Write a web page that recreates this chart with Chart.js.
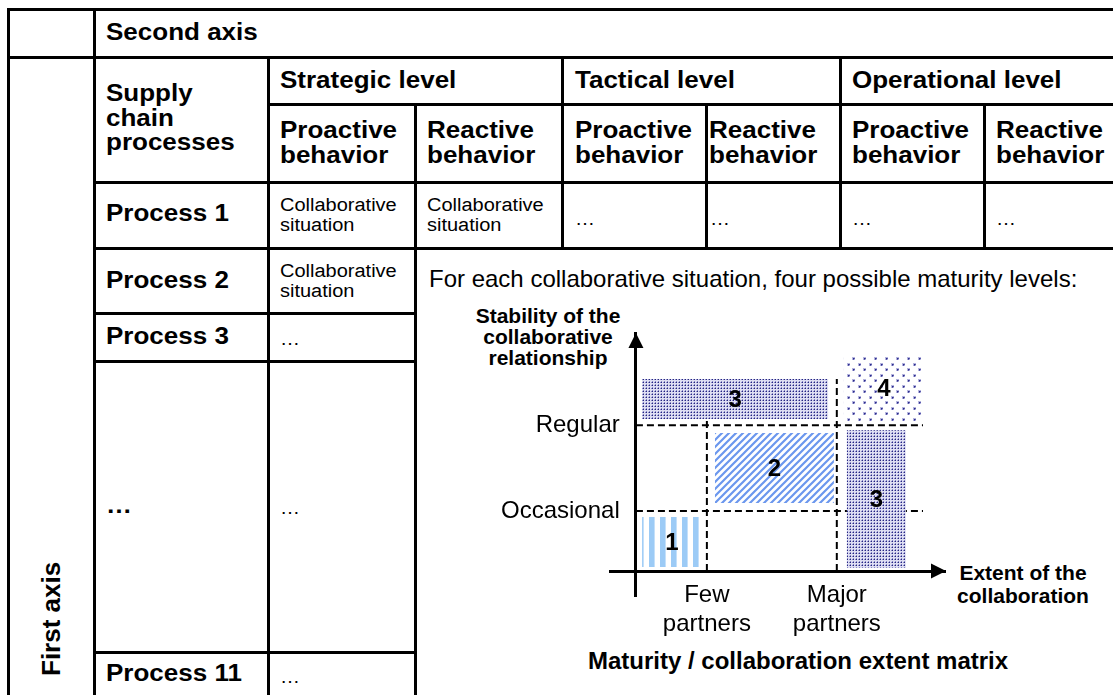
<!DOCTYPE html>
<html><head><meta charset="utf-8">
<script src="https://cdn.jsdelivr.net/npm/chart.js@4"></script>
<style>
html,body{margin:0;padding:0;background:#fff;}
body{width:1113px;height:695px;overflow:hidden;position:relative;font-family:"Liberation Sans",Arial,sans-serif;color:#000;}
.ln{position:absolute;background:#000;z-index:1;}
.t{position:absolute;white-space:nowrap;transform:translateY(-50%) scaleY(0.9);z-index:1;}
.b{font-weight:bold;font-size:26px;line-height:27.5px;}
.s{font-size:20px;line-height:21.5px;}
.m{font-size:24px;line-height:28px;transform:translateY(-50%);}
.ct{position:absolute;font-weight:bold;text-align:center;white-space:nowrap;z-index:1;}
#fa{position:absolute;left:51px;top:676px;transform-origin:0 0;transform:rotate(-90deg) translateY(-50%);font-weight:bold;font-size:26px;line-height:30px;white-space:nowrap;}
canvas{position:absolute;left:0;top:0;z-index:2;pointer-events:none;}
</style></head><body>
<div id="tbl"></div>
<div id="fa">First axis</div>
<div class="ct" style="left:448px;width:200px;top:305px;font-size:21px;line-height:21px;">Stability of the<br>collaborative<br>relationship</div>
<div class="ct" style="left:943px;width:160px;top:561px;font-size:21px;line-height:23px;">Extent of the<br>collaboration</div>
<div class="ct" style="left:588px;width:400px;top:647px;font-size:24px;line-height:28px;">Maturity / collaboration extent matrix</div>
<canvas id="c" width="1113" height="695"></canvas>
<script>
// ---- chart data ----
const xRange = [-0.8, 9.57];
const yRange = [-0.89, 8.16];
const xTickValues = [2.19, 6.2];
const xTickLabels = [['Few', 'partners'], ['Major', 'partners']];
const yTickValues = [2.06, 5.0];
const yTickLabels = ['Occasional', 'Regular'];
const boxLabels = ['1', '2', '3', '3', '4'];
const boxX0 = [0.19, 2.44, 6.51, 0.19, 6.42];
const boxX1 = [2.04, 6.11, 8.33, 5.93, 8.89];
const boxY0 = [0.14, 2.33, 0.10, 5.21, 5.14];
const boxY1 = [1.85, 4.73, 4.83, 6.58, 7.40];
const boxPattern = ['vstripe', 'diag', 'dense', 'dense', 'sparse'];
const hGuideEnd = [8.86, 8.86];
const vGuideTop = [5.14, 6.58];
const yLabelGap = 0.5;

// ---- table (layout) ----
const tbl = document.getElementById('tbl');
const hLines = [[9.5, 8, 1113], [57, 8, 1113], [104, 268, 1113], [182, 94.6, 1113], [248, 94.6, 1113], [313, 94.6, 415], [361, 94.6, 415], [652, 94.6, 415]];
const vLines = [[8, 9.5, 700], [94.6, 9.5, 700], [268, 57, 700], [415, 104, 700], [562.6, 57, 248], [706, 104, 248], [840, 57, 248], [984, 104, 248]];
const LW = 3;
hLines.forEach(([y, a, b]) => { const d = document.createElement('div'); d.className = 'ln'; d.style.cssText = `top:${y - LW / 2}px;left:${a - LW / 2}px;width:${b - a + LW}px;height:${LW}px`; tbl.appendChild(d); });
vLines.forEach(([x, a, b]) => { const d = document.createElement('div'); d.className = 'ln'; d.style.cssText = `left:${x - LW / 2}px;top:${a - LW / 2}px;height:${b - a + LW}px;width:${LW}px`; tbl.appendChild(d); });
const cells = [
  [106, 33, 'b', 'Second axis'],
  [106, 118, 'b', 'Supply<br>chain<br>processes'],
  [280, 80.5, 'b', 'Strategic level'], [575, 80.5, 'b', 'Tactical level'], [852, 80.5, 'b', 'Operational level'],
  [280, 143, 'b', 'Proactive<br>behavior'], [427, 143, 'b', 'Reactive<br>behavior'],
  [575, 143, 'b', 'Proactive<br>behavior'], [709, 143, 'b', 'Reactive<br>behavior'],
  [852, 143, 'b', 'Proactive<br>behavior'], [996, 143, 'b', 'Reactive<br>behavior'],
  [106, 214, 'b', 'Process 1'], [280, 215, 's', 'Collaborative<br>situation'], [427, 215, 's', 'Collaborative<br>situation'],
  [575, 219, 's', '\u2026'], [710, 219, 's', '\u2026'], [852, 219, 's', '\u2026'], [996, 219, 's', '\u2026'],
  [106, 280.5, 'b', 'Process 2'], [280, 280.5, 's', 'Collaborative<br>situation'],
  [429, 279, 'm', 'For each collaborative situation, four possible maturity levels:'],
  [106, 337, 'b', 'Process 3'], [280, 339, 's', '\u2026'],
  [106, 506, 'b', '\u2026'], [280, 508, 's', '\u2026'],
  [106, 674, 'b', 'Process 11'], [280, 677, 's', '\u2026']
];
cells.forEach(([x, y, c, h]) => { const d = document.createElement('div'); d.className = 't ' + c; d.style.left = x + 'px'; d.style.top = y + 'px'; d.innerHTML = h; tbl.appendChild(d); });

// ---- patterns ----
function makePattern(kind) {
  const t = document.createElement('canvas');
  const g = t.getContext('2d');
  if (kind === 'vstripe') {
    t.width = 11; t.height = 4;
    g.fillStyle = '#ffffff'; g.fillRect(0, 0, 11, 4);
    g.fillStyle = '#9ccbf6'; g.fillRect(0, 0, 5, 4);
    g.fillStyle = '#c4e0fa'; g.fillRect(5, 0, 1, 4);
  } else if (kind === 'diag') {
    const s = 7; t.width = s; t.height = s;
    g.fillStyle = '#ffffff'; g.fillRect(0, 0, s, s);
    g.strokeStyle = '#6b97ee'; g.lineWidth = 2.2;
    g.beginPath();
    g.moveTo(-1, s + 1); g.lineTo(s + 1, -1);
    g.moveTo(-1, 1); g.lineTo(1, -1);
    g.moveTo(s - 1, s + 1); g.lineTo(s + 1, s - 1);
    g.stroke();
  } else if (kind === 'dense') {
    t.width = 3; t.height = 3;
    g.fillStyle = '#dedef2'; g.fillRect(0, 0, 3, 3);
    g.fillStyle = '#8686c6'; g.fillRect(0, 1, 1, 1); g.fillRect(1, 0, 1, 1);
    g.fillStyle = '#26267e'; g.fillRect(1, 1, 1, 1);
  } else {
    t.width = 11; t.height = 11;
    g.fillStyle = '#ffffff'; g.fillRect(0, 0, 11, 11);
    g.fillStyle = '#b4b4de'; g.fillRect(0, 0, 3, 3); g.fillRect(5, 5, 3, 3);
    g.fillStyle = '#2d2d88'; g.fillRect(1, 1, 1, 1); g.fillRect(6, 6, 1, 1);
    g.fillStyle = '#5c5cae'; g.fillRect(2, 1, 1, 1); g.fillRect(1, 2, 1, 1); g.fillRect(7, 6, 1, 1); g.fillRect(6, 7, 1, 1);
  }
  return g.createPattern(t, 'repeat');
}

const ctx = document.getElementById('c').getContext('2d');
const datasets = [];
boxLabels.forEach((lab, i) => {
  datasets.push({
    type: 'line', label: 'Level ' + lab,
    data: [{x: boxX0[i], y: boxY0[i]}, {x: boxX1[i], y: boxY0[i]}, {x: boxX1[i], y: boxY1[i]}, {x: boxX0[i], y: boxY1[i]}, {x: boxX0[i], y: boxY0[i]}],
    fill: 'shape', backgroundColor: makePattern(boxPattern[i]), borderWidth: 0, borderColor: 'rgba(0,0,0,0)',
    pointRadius: 0, tension: 0, order: 1
  });
});
yTickValues.forEach((v, i) => {
  datasets.push({type: 'line', label: yTickLabels[i], data: [{x: 0, y: v}, {x: hGuideEnd[i], y: v}],
    borderColor: '#000', borderWidth: 2, borderDash: [7, 4], fill: false, pointRadius: 0, order: 2});
});
xTickValues.forEach((v, i) => {
  datasets.push({type: 'line', label: xTickLabels[i].join(' '), data: [{x: v, y: 0}, {x: v, y: vGuideTop[i]}],
    borderColor: '#000', borderWidth: 2, borderDash: [7, 4], fill: false, pointRadius: 0, order: 2});
});

const boxLabelPlugin = {
  id: 'boxLabels',
  afterDatasetsDraw(chart) {
    const {ctx, scales: {x, y}} = chart;
    ctx.save();
    ctx.font = 'bold 24px "Liberation Sans", Arial';
    ctx.fillStyle = '#000'; ctx.textAlign = 'center'; ctx.textBaseline = 'middle';
    boxLabels.forEach((lab, i) => {
      ctx.fillText(lab, x.getPixelForValue((boxX0[i] + boxX1[i]) / 2), y.getPixelForValue((boxY0[i] + boxY1[i]) / 2) + 1);
    });
    ctx.restore();
  }
};
const arrowPlugin = {
  id: 'arrows',
  afterDraw(chart) {
    const {ctx, chartArea, scales: {x, y}} = chart;
    const ax = x.getPixelForValue(0), ay = y.getPixelForValue(0);
    ctx.save(); ctx.fillStyle = '#000';
    ctx.beginPath(); ctx.moveTo(ax, chartArea.top); ctx.lineTo(ax - 7.5, chartArea.top + 15); ctx.lineTo(ax + 7.5, chartArea.top + 15); ctx.closePath(); ctx.fill();
    ctx.beginPath(); ctx.moveTo(chartArea.right, ay); ctx.lineTo(chartArea.right - 15, ay - 7.5); ctx.lineTo(chartArea.right - 15, ay + 7.5); ctx.closePath(); ctx.fill();
    ctx.restore();
  }
};

const tickFont = {family: "'Liberation Sans', Arial", size: 24, lineHeight: 1.2};
new Chart(ctx, {
  type: 'line',
  data: {datasets},
  options: {
    responsive: false, animation: false, events: [],
    layout: {padding: {left: 610, right: 167, top: 333, bottom: 98}},
    plugins: {legend: {display: false}, tooltip: {enabled: false}, title: {display: false}},
    scales: {
      x: {
        type: 'linear', min: xRange[0], max: xRange[1], position: {y: 0},
        grid: {display: false, drawTicks: false, lineWidth: 0},
        border: {display: true, color: '#000', width: 3},
        afterBuildTicks: s => { s.ticks = xTickValues.map(v => ({value: v})); },
        afterFit: s => { s.height = 0; },
        ticks: {autoSkip: false, maxRotation: 0, minRotation: 0, padding: 10, color: '#000', font: tickFont,
          callback: (v, i) => xTickLabels[i]}
      },
      y: {
        type: 'linear', min: yRange[0], max: yRange[1], position: {x: 0},
        grid: {display: false, drawTicks: false, lineWidth: 0},
        border: {display: true, color: '#000', width: 3},
        afterBuildTicks: s => { s.ticks = yTickValues.map(v => ({value: v})); },
        afterFit: s => { s.width = 0; },
        ticks: {display: false}
      },
      yLabels: {
        axis: 'y', type: 'linear', min: yRange[0], max: yRange[1], position: {x: -yLabelGap},
        grid: {display: false, drawTicks: false, lineWidth: 0},
        border: {display: false},
        afterBuildTicks: s => { s.ticks = yTickValues.map(v => ({value: v})); },
        afterFit: s => { s.width = 0; },
        ticks: {autoSkip: false, padding: 0, color: '#000', font: tickFont,
          callback: (v, i) => yTickLabels[i]}
      }
    }
  },
  plugins: [boxLabelPlugin, arrowPlugin]
});
</script>
</body></html>
